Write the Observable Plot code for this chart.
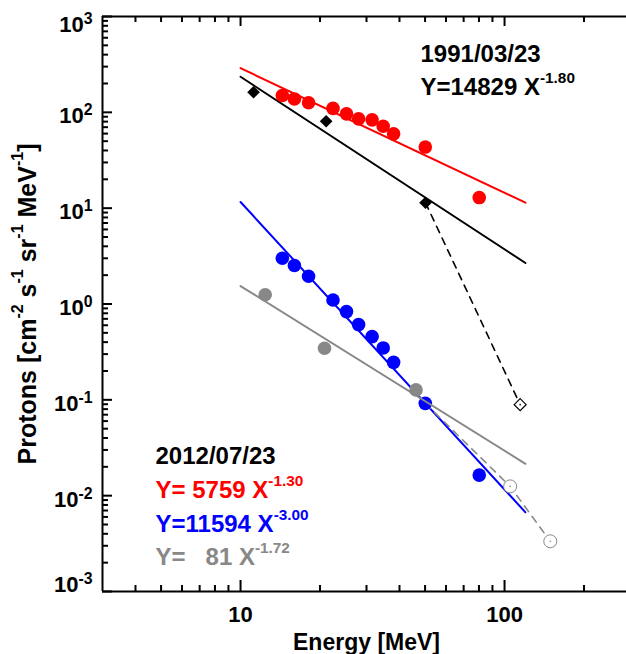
<!DOCTYPE html>
<html><head><meta charset="utf-8">
<script src="https://cdn.jsdelivr.net/npm/d3@7"></script>
<script src="https://cdn.jsdelivr.net/npm/@observablehq/plot@0.6"></script>
<style>
html,body{margin:0;padding:0;background:#fff;overflow:hidden;}
#chart svg{display:block;overflow:hidden;}
svg text, svg tspan{white-space:pre;}
</style></head><body><div id="chart"></div>
<script>
// ---------------- data ----------------
const energy2012 = [14.4, 16.0, 18.1, 22.4, 25.2, 28.0, 31.5, 34.7, 38.0, 50.1, 80.2];
const fluxRed2012 = [150, 138, 126, 110, 96.4, 85.5, 83.5, 71.6, 59.6, 43.4, 12.9];
const fluxBlue2012 = [3.0, 2.52, 1.95, 1.10, 0.833, 0.61, 0.457, 0.348, 0.246, 0.0919, 0.0164];
const energyGray2012 = [12.4, 20.8, 46.2];
const fluxGray2012 = [1.25, 0.345, 0.127];
const energyOpen2012 = [105, 149];
const fluxOpen2012 = [0.0125, 0.00334];
const energyDash2012 = [50.1, 105, 149];
const fluxDash2012 = [0.0919, 0.0125, 0.00334];
const energy1991 = [11.2, 21.1, 50.2];
const flux1991 = [162, 80.7, 11.4];
const energyOpen1991 = [114.6];
const fluxOpen1991 = [0.0891];
const energyDash1991 = [50.2, 114.6];
const fluxDash1991 = [11.4, 0.0891];
const fitEnergy = [10, 120];
const fitBlack1991 = [235, 2.68];
const fitRed2012 = [289, 11.4];
const fitBlue2012 = [11.6, 0.0067];
const fitGray2012 = [1.54, 0.0215];
const xMajorTicks = [10, 100];
const xTickLabels = ["10", "100"];
const xMinorTicks = [4, 5, 6, 7, 8, 9, 20, 30, 40, 50, 60, 70, 80, 90, 200];
const yMajorTicks = [1e-3, 1e-2, 1e-1, 1, 10, 100, 1000];
const yTickExponents = ["-3", "-2", "-1", "0", "1", "2", "3"];
const yMinorMultipliers = [2, 3, 4, 5, 6, 7, 8, 9];
const titleLines = ["1991/03/23", "Y=14829 X^{-1.80}"];
const titleColors = ["black", "black"];
const legendLines = ["2012/07/23", "Y= 5759 X^{-1.30}", "Y=11594 X^{-3.00}", "Y=   81 X^{-1.72}"];
const legendColors = ["black", "#ff0000", "#0000ff", "#888888"];
const xTitle = "Energy [MeV]";
const yTitle = "Protons [cm^{-2} s^{-1} sr^{-1} MeV^{-1}]";

// ---------------- helpers ----------------
const pts = (xs, ys) => xs.map((x, i) => ({x, y: ys[i]}));
const RED = "#ff0000", BLUE = "#0000ff", GRAY = "#888888", BLACK = "#000000";
const W = 626, H = 654, MT = 16, MB = 63, ML = 102, MR = -4;
const frameH = H - MT - MB, frameW = W - ML - MR;
const yMinorTicks = yMajorTicks.slice(0, -1).flatMap(d => yMinorMultipliers.map(k => k * d));
const fmtY = d => "10^{" + yTickExponents[yMajorTicks.indexOf(d)] + "}";
const bold = {fontWeight: "bold"};

const marks = [
  // fits
  Plot.line(pts(fitEnergy, fitRed2012), {x: "x", y: "y", stroke: RED, strokeWidth: 2}),
  Plot.line(pts(fitEnergy, fitBlack1991), {x: "x", y: "y", stroke: BLACK, strokeWidth: 2}),
  Plot.line(pts(fitEnergy, fitBlue2012), {x: "x", y: "y", stroke: BLUE, strokeWidth: 2}),
  // dashed extensions
  Plot.line(pts(energyDash1991, fluxDash1991), {x: "x", y: "y", stroke: BLACK, strokeWidth: 1.6, strokeDasharray: "7,6"}),
  Plot.line(pts(energyDash2012, fluxDash2012), {x: "x", y: "y", stroke: GRAY, strokeWidth: 1.6, strokeDasharray: "7,6"}),
  // points
  Plot.dot(pts(energy2012, fluxRed2012), {x: "x", y: "y", r: 6.8, fill: RED}),
  Plot.dot(pts(energy1991, flux1991), {x: "x", y: "y", r: 5.7, symbol: "diamond2", fill: BLACK}),
  Plot.dot(pts(energy2012, fluxBlue2012), {x: "x", y: "y", r: 6.8, fill: BLUE}),
  Plot.dot(pts(energyGray2012, fluxGray2012), {x: "x", y: "y", r: 6.8, fill: GRAY}),
  Plot.line(pts(fitEnergy, fitGray2012), {x: "x", y: "y", stroke: GRAY, strokeWidth: 2}),
  Plot.dot(pts(energyOpen2012, fluxOpen2012), {x: "x", y: "y", r: 6.5, fill: "white", stroke: GRAY, strokeWidth: 1}),
  Plot.dot(pts(energyOpen2012, fluxOpen2012), {x: "x", y: "y", r: 0.8, fill: GRAY}),
  Plot.dot(pts(energyOpen1991, fluxOpen1991), {x: "x", y: "y", r: 5.4, symbol: "diamond2", fill: "white", stroke: BLACK, strokeWidth: 1.2}),
  Plot.dot(pts(energyOpen1991, fluxOpen1991), {x: "x", y: "y", r: 0.8, fill: BLACK}),
  // frame
  Plot.ruleY([1e-3, 1e3], {stroke: BLACK, strokeWidth: 2}),
  Plot.ruleX([3, 300], {stroke: BLACK, strokeWidth: 2}),
  // inward ticks
  Plot.ruleX(xMajorTicks, {insetTop: frameH - 11, strokeWidth: 2}),
  Plot.ruleX(xMajorTicks, {insetBottom: frameH - 10, strokeWidth: 2}),
  Plot.ruleX(xMinorTicks, {insetTop: frameH - 6, strokeWidth: 2}),
  Plot.ruleX(xMinorTicks, {insetBottom: frameH - 6, strokeWidth: 2}),
  Plot.ruleY(yMajorTicks, {insetRight: frameW - 10, strokeWidth: 2}),
  Plot.ruleY(yMinorTicks, {insetRight: frameW - 6, strokeWidth: 2}),
  // tick labels
  Plot.axisX(xMajorTicks, {tickSize: 0, tickPadding: 15, label: null, fontSize: 22, ...bold,
    tickFormat: d => xTickLabels[xMajorTicks.indexOf(d)]}),
  Plot.axisY(yMajorTicks.slice(1, -1), {tickSize: 0, tickPadding: 10, label: null, fontSize: 22, ...bold, dy: 4, tickFormat: fmtY}),
  Plot.axisY(yMajorTicks.slice(0, 1), {tickSize: 0, tickPadding: 10, label: null, fontSize: 22, ...bold, dy: -7, tickFormat: fmtY}),
  Plot.axisY(yMajorTicks.slice(-1), {tickSize: 0, tickPadding: 10, label: null, fontSize: 22, ...bold, dy: 8, tickFormat: fmtY}),
  // axis titles
  Plot.text([xTitle], {text: d => d, frameAnchor: "bottom", textAnchor: "middle", lineAnchor: "middle",
    dy: 51, fontSize: 23, ...bold, fill: BLACK}),
  Plot.text([yTitle], {text: d => d, frameAnchor: "left", textAnchor: "middle", lineAnchor: "middle",
    rotate: -90, dx: -75, fontSize: 25, ...bold, fill: BLACK}),
  // annotations
  ...titleLines.map((t, i) => Plot.text([t], {text: d => d, frameAnchor: "top-left", textAnchor: "start", lineAnchor: "middle",
    dx: 318, dy: 38 + 33 * i, fontSize: 24, ...bold, fill: titleColors[i]})),
  ...legendLines.map((t, i) => Plot.text([t], {text: d => d, frameAnchor: "top-left", textAnchor: "start", lineAnchor: "middle",
    dx: 53, dy: 440 + 33.7 * i, fontSize: 24, ...bold, fill: legendColors[i]}))
];

const chart = Plot.plot({
  width: W, height: H,
  marginTop: MT, marginBottom: MB, marginLeft: ML, marginRight: MR,
  x: {type: "log", domain: [3, 300]},
  y: {type: "log", domain: [1e-3, 1e3]},
  style: {fontFamily: "'Liberation Sans', Arial, Helvetica, sans-serif", fontSize: "22px", background: "white", overflow: "hidden"},
  marks
});
document.getElementById("chart").appendChild(chart);

// superscript rendering: "^{...}" -> raised tspan
function applySup(sel, size, raise) {
  sel.each(function () {
    const s = this.textContent;
    if (!s.includes("^{")) return;
    const el = d3.select(this);
    const parts = s.split(/(\^\{[^}]*\})/).filter(p => p !== "");
    el.text(null);
    let raised = false;
    for (const p of parts) {
      const m = p.match(/^\^\{(.*)\}$/);
      if (m) {
        el.append("tspan").attr("font-size", size + "em").attr("dy", (-raise / size).toFixed(3) + "em").text(m[1]);
        raised = true;
      } else {
        const t = el.append("tspan").text(p);
        if (raised) { t.attr("dy", raise + "em"); raised = false; }
      }
    }
  });
}
const svg = d3.select(chart);
applySup(svg.selectAll('g[aria-label="y-axis tick label"] text'), 0.72, 0.36);
applySup(svg.selectAll("text"), 0.64, 0.5);
</script></body></html>
